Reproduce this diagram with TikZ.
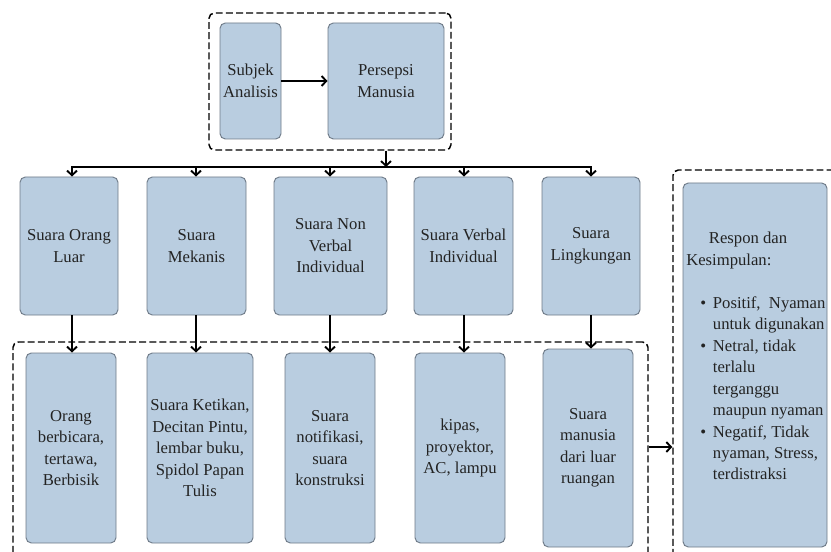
\documentclass[tikz,border=0pt]{standalone}
\usepackage{fontspec}
\setmainfont{Liberation Serif}
\usetikzlibrary{arrows.meta}
\definecolor{boxfill}{RGB}{185,205,224}
\definecolor{boxline}{RGB}{110,122,135}
\definecolor{txt}{RGB}{35,35,35}
\tikzset{
 box/.style={draw=boxline, fill=boxfill, line width=0.7pt, rounded corners=4pt, inner sep=0pt, align=center, text=txt, font=\fontsize{12.5}{16.1}\selectfont},
 grp/.style={draw=black, line width=1.1pt, dash pattern=on 5.2pt off 2.4pt, rounded corners=4pt, inner sep=0pt},
 arr/.style={line width=1.4pt, -{Straight Barb[length=3.5pt,width=7.5pt]}},
 conn/.style={line width=1.4pt}
}
\newcommand\pbox[7]{\node[#1, minimum width={(#4-#2)*0.75pt}, minimum height={(#5-#3)*0.75pt}] (#6) at ({(#2+#4)/2},{(#3+#5)/2}) {#7};}
\begin{document}
\begin{tikzpicture}[x=0.75pt,y=-0.75pt]
\useasboundingbox (0,0) rectangle (831,552);
\clip (0,0) rectangle (831,552);
% group frames
\pbox{grp}{209}{13}{451}{150}{grpTop}{}
\pbox{grp}{13}{342}{648}{640}{grpMid}{}
\pbox{grp}{673}{170}{920}{640}{grpRight}{}
% top boxes
\pbox{box}{220}{23}{281}{139}{subjek}{Subjek\\Analisis}
\pbox{box}{328}{23}{444}{139}{persepsi}{Persepsi\\Manusia}
% row 1
\pbox{box}{20}{177}{118}{315}{a1}{Suara Orang\\Luar}
\pbox{box}{147}{177}{246}{315}{a2}{Suara\\Mekanis}
\pbox{box}{274}{177}{387}{315}{a3}{Suara Non\\Verbal\\Individual}
\pbox{box}{414}{177}{513}{315}{a4}{Suara Verbal\\Individual}
\pbox{box}{542}{177}{640}{315}{a5}{Suara\\Lingkungan}
% row 2
\pbox{box}{26}{353}{116}{543}{b1}{Orang\\berbicara,\\tertawa,\\Berbisik}
\pbox{box}{147}{353}{253}{543}{b2}{Suara Ketikan,\\Decitan Pintu,\\lembar buku,\\Spidol Papan\\Tulis}
\pbox{box}{285}{353}{375}{543}{b3}{Suara\\notifikasi,\\suara\\konstruksi}
\pbox{box}{415}{353}{505}{543}{b4}{kipas,\\proyektor,\\AC, lampu}
\pbox{box}{543}{349}{633}{547}{b5}{Suara\\manusia\\dari luar\\ruangan}
% response box
\pbox{box}{683}{183}{827}{547}{resp}{}
\node[anchor=north west, inner sep=0pt, align=left, text=txt, font=\fontsize{12.5}{16.1}\selectfont] (resptext) at (686,232)
 {\hspace*{17pt}Respon dan\\
  Kesimpulan:\\[16.1pt]
  \hspace*{20pt}\llap{\textbullet\hspace{5pt}}Positif,~~Nyaman\\
  \hspace*{20pt}untuk digunakan\\
  \hspace*{20pt}\llap{\textbullet\hspace{5pt}}Netral, tidak\\
  \hspace*{20pt}terlalu\\
  \hspace*{20pt}terganggu\\
  \hspace*{20pt}maupun nyaman\\
  \hspace*{20pt}\llap{\textbullet\hspace{5pt}}Negatif, Tidak\\
  \hspace*{20pt}nyaman, Stress,\\
  \hspace*{20pt}terdistraksi};
% connectors
\draw[arr] (subjek.east) -- (persepsi.west);
\coordinate (j) at (387,167);
\coordinate (ay) at (0,447);
\draw[arr] (persepsi.south |- grpTop.south) -- (persepsi.south |- j);
\draw[conn] ([xshift=-0.7pt]72,167) -- ([xshift=0.7pt]a5.north |- j);
\foreach \n/\x in {a1/72,a2/196,a3/330,a4/464,a5/591}{
  \draw[arr] (\x,167) -- (\x,0 |- \n.north);
}
\foreach \n/\m/\x in {a1/b1/72,a2/b2/196,a3/b3/330,a4/b4/464,a5/b5/591}{
  \draw[arr] (\x,0 |- \n.south) -- (\x,0 |- \m.north);
}
\draw[arr] (grpMid.east |- ay) -- (grpRight.west |- ay);
\end{tikzpicture}
\end{document}
